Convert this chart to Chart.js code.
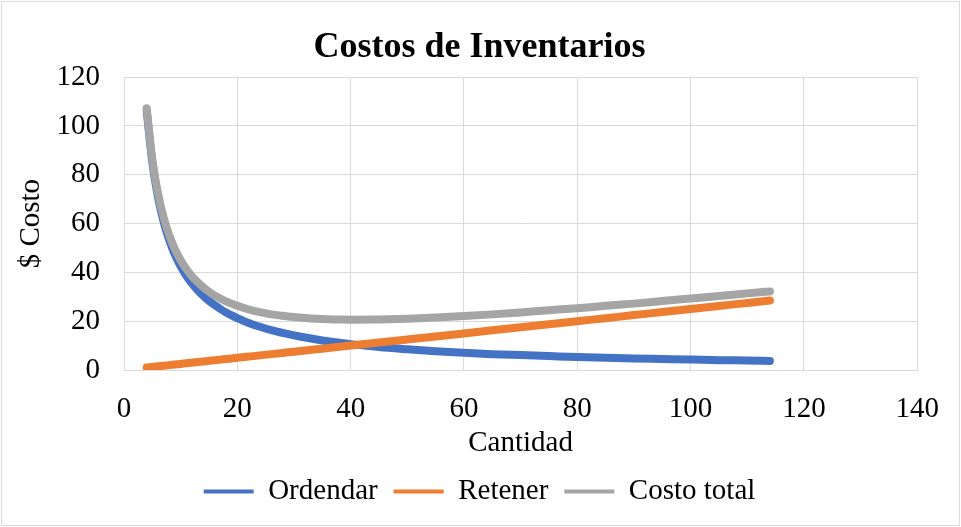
<!DOCTYPE html>
<html>
<head>
<meta charset="utf-8">
<script src="https://cdn.jsdelivr.net/npm/chart.js@4/dist/chart.umd.min.js"></script>
<style>
  body { margin: 0; background: #fff; }
  #wrap { width: 961px; height: 527px; }
</style>
</head>
<body>
<div id="wrap"><canvas id="inv-chart"></canvas></div>
<script>
// Cantidad (Q)
const cantidad = [4, 5, 6, 7, 8, 9, 10, 11, 12, 13, 14, 15, 16, 17, 18, 19, 20,
  22, 24, 26, 28, 30, 32, 34, 36, 38, 40, 45, 50, 55, 60, 65, 70, 75, 80, 85,
  90, 95, 100, 105, 110, 114];
const ordenar = [106.3, 85.0, 70.8, 60.7, 53.1, 47.2, 42.5, 38.6, 35.4, 32.7,
  30.4, 28.3, 26.6, 25.0, 23.6, 22.4, 21.3, 19.3, 17.7, 16.3, 15.2, 14.2, 13.3,
  12.5, 11.8, 11.2, 10.6, 9.4, 8.5, 7.7, 7.1, 6.5, 6.1, 5.7, 5.3, 5.0, 4.7, 4.5,
  4.3, 4.0, 3.9, 3.7];
const retener = [1.0, 1.25, 1.5, 1.75, 2.0, 2.25, 2.5, 2.75, 3.0, 3.25, 3.5,
  3.75, 4.0, 4.25, 4.5, 4.75, 5.0, 5.5, 6.0, 6.5, 7.0, 7.5, 8.0, 8.5, 9.0, 9.5,
  10.0, 11.25, 12.5, 13.75, 15.0, 16.25, 17.5, 18.75, 20.0, 21.25, 22.5, 23.75,
  25.0, 26.25, 27.5, 28.5];
const costoTotal = [107.3, 86.3, 72.3, 62.5, 55.1, 49.5, 45.0, 41.4, 38.4, 36.0,
  33.9, 32.1, 30.6, 29.3, 28.1, 27.2, 26.3, 24.8, 23.7, 22.8, 22.2, 21.7, 21.3,
  21.0, 20.8, 20.7, 20.6, 20.7, 21.0, 21.5, 22.1, 22.8, 23.6, 24.5, 25.3, 26.3,
  27.2, 28.3, 29.3, 30.3, 31.4, 32.2];

const serif = "'Liberation Serif', 'Times New Roman', serif";

function pts(ys) {
  return cantidad.map((x, i) => ({x, y: ys[i]}));
}

// white page with thin grey frame, like the Excel export
const frame = {
  id: 'frame',
  beforeDraw(chart) {
    const c = chart.ctx;
    c.save();
    c.fillStyle = '#fff';
    c.fillRect(0, 0, chart.width, chart.height);
    c.strokeStyle = '#d9d9d9';
    c.lineWidth = 1;
    c.strokeRect(1.5, 1.5, chart.width - 3, chart.height - 3);
    c.restore();
  }
};

function line(label, color, ys, order) {
  return {
    label,
    data: pts(ys),
    order,
    borderColor: color,
    backgroundColor: color,
    borderWidth: 8,
    pointRadius: 0,
    cubicInterpolationMode: 'monotone',
    borderCapStyle: 'round'
  };
}

const ctx = document.getElementById('inv-chart').getContext('2d');
const chart = new Chart(ctx, {
  type: 'line',
  data: {
    datasets: [
      line('Ordendar', '#4472c4', ordenar, 3),
      line('Retener', '#ed7d31', retener, 2),
      line('Costo total', '#a5a5a5', costoTotal, 1)
    ]
  },
  options: {
    responsive: true,
    maintainAspectRatio: false,
    animation: false,
    layout: { padding: { left: 14, right: 16, top: 0, bottom: 11 } },
    plugins: {
      title: {
        display: true,
        text: 'Costos de Inventarios',
        color: '#000',
        font: { family: serif, size: 36, weight: 'bold' },
        padding: { top: 26, bottom: 8 }
      },
      legend: {
        position: 'bottom',
        labels: {
          color: '#000',
          font: { family: serif, size: 29 },
          boxWidth: 50,
          boxHeight: 4,
          padding: 16,
          sort: (a, b) => a.datasetIndex - b.datasetIndex,
          generateLabels(chart) {
            const base = Chart.defaults.plugins.legend.labels.generateLabels(chart);
            return base.map(l => ({...l, lineWidth: 0}));
          }
        }
      },
      tooltip: { enabled: false }
    },
    scales: {
      x: {
        type: 'linear',
        min: 0,
        max: 140,
        afterFit(scale) { scale.height = 91; },
        ticks: {
          stepSize: 20,
          color: '#000',
          font: { family: serif, size: 29 },
          padding: 22
        },
        grid: { color: '#d9d9d9', drawTicks: false },
        border: { color: '#d9d9d9' },
        title: {
          display: true,
          text: 'Cantidad',
          color: '#000',
          font: { family: serif, size: 29 },
          padding: { top: 0, bottom: 0 }
        }
      },
      y: {
        min: 0,
        max: 120,
        afterFit(scale) { scale.width = 110; },
        ticks: {
          stepSize: 20,
          color: '#000',
          font: { family: serif, size: 29 },
          padding: 24
        },
        grid: { color: '#d9d9d9', drawTicks: false },
        border: { color: '#d9d9d9' },
        title: {
          display: true,
          text: '$ Costo',
          color: '#000',
          font: { family: serif, size: 29 },
          padding: { top: 0, bottom: 6 }
        }
      }
    }
  },
  plugins: [frame]
});
</script>
</body>
</html>
